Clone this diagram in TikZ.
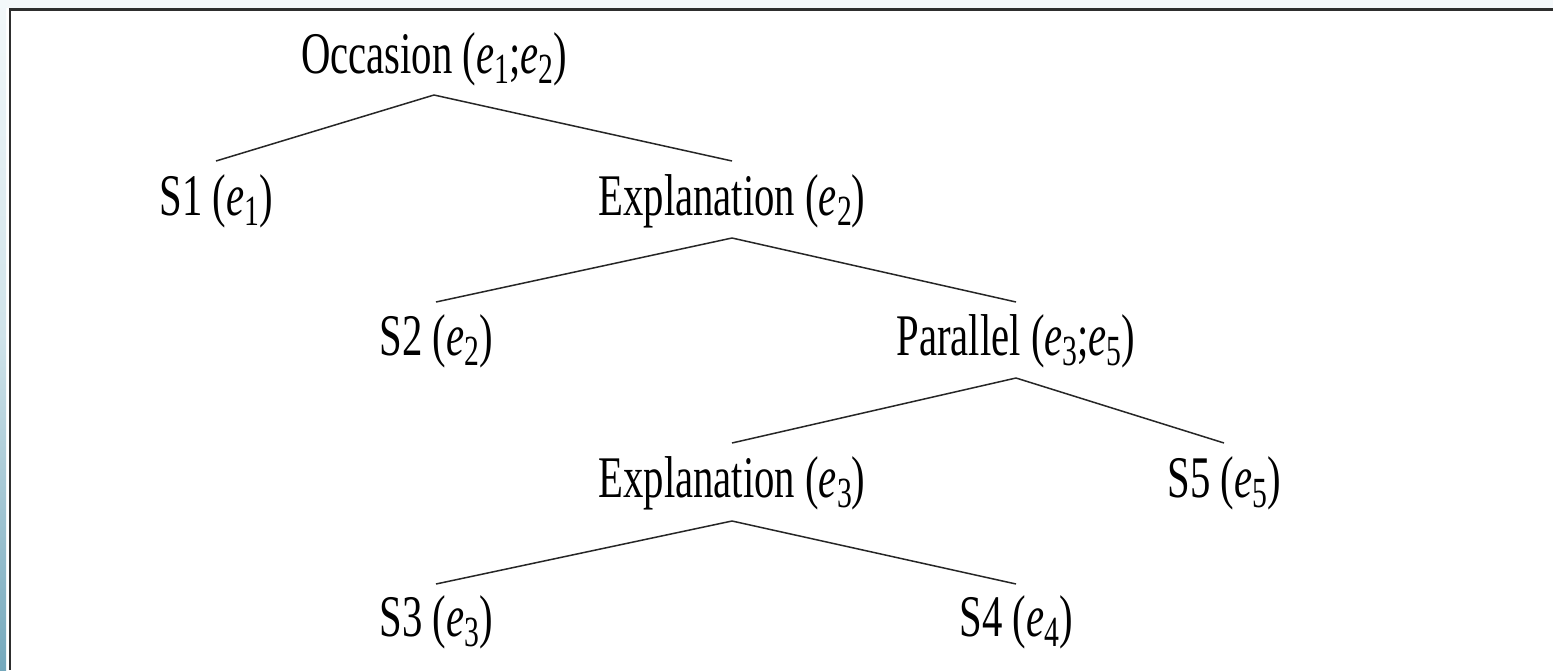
\documentclass[tikz,border=0pt]{standalone}
\usepackage{fontspec}
\setmainfont{Liberation Serif}
% event variable e with a lowered upright index
\newcommand\ev[1]{\textit{e}\raisebox{-10pt}{\fontsize{43}{43}\selectfont #1}}
% condensed serif label text
\newcommand\lbl[1]{\scalebox{0.69}[1]{\fontsize{59}{70}\selectfont #1}}
\definecolor{framegray}{HTML}{2E2E2E}
\definecolor{bandtint}{HTML}{F4F8FA}
\definecolor{stripTop}{HTML}{F3F8FA}
\definecolor{stripMid}{HTML}{D0E3EA}
\definecolor{stripBot}{HTML}{74A8BC}
\begin{document}
\begin{tikzpicture}[x=1pt,y=-1pt,
  lab/.style={anchor=base, inner sep=0pt},
  edge/.style={line width=1.5pt, draw=black!85}]
\useasboundingbox (0,0) rectangle (1553,670);
\fill[white] (0,0) rectangle (1553,670);
% outer band and side strip
\fill[bandtint] (0,0) rectangle (1553,8);
\shade[top color=stripTop, bottom color=stripBot, middle color=stripMid] (0,0) rectangle (6,670);
% frame
\draw[line width=2.5pt, framegray] (10,670) -- (10,9.5) -- (1553,9.5);

% tree nodes
\node[lab] (occ) at (434,73)  {\lbl{Occasion (\ev{1};\ev{2})}};
\node[lab] (s1)  at (216,215) {\lbl{S1 (\ev{1})}};
\node[lab] (ex2) at (732,215) {\lbl{Explanation (\ev{2})}};
\node[lab] (s2)  at (436,355) {\lbl{S2 (\ev{2})}};
\node[lab] (par) at (1016,355) {\lbl{Parallel (\ev{3};\ev{5})}};
\node[lab] (ex3) at (732,497) {\lbl{Explanation (\ev{3})}};
\node[lab] (s5)  at (1224,497) {\lbl{S5 (\ev{5})}};
\node[lab] (s3)  at (436,636) {\lbl{S3 (\ev{3})}};
\node[lab] (s4)  at (1016,636) {\lbl{S4 (\ev{4})}};

% branches
\draw[edge] ([yshift=-22pt]occ.base) -- ([yshift=54pt]s1.base);
\draw[edge] ([yshift=-22pt]occ.base) -- ([yshift=54pt]ex2.base);
\draw[edge] ([yshift=-23pt]ex2.base) -- ([yshift=53pt]s2.base);
\draw[edge] ([yshift=-23pt]ex2.base) -- ([yshift=53pt]par.base);
\draw[edge] ([yshift=-23pt]par.base) -- ([yshift=54pt]ex3.base);
\draw[edge] ([yshift=-23pt]par.base) -- ([yshift=54pt]s5.base);
\draw[edge] ([yshift=-24pt]ex3.base) -- ([yshift=52pt]s3.base);
\draw[edge] ([yshift=-24pt]ex3.base) -- ([yshift=52pt]s4.base);
\end{tikzpicture}
\end{document}
